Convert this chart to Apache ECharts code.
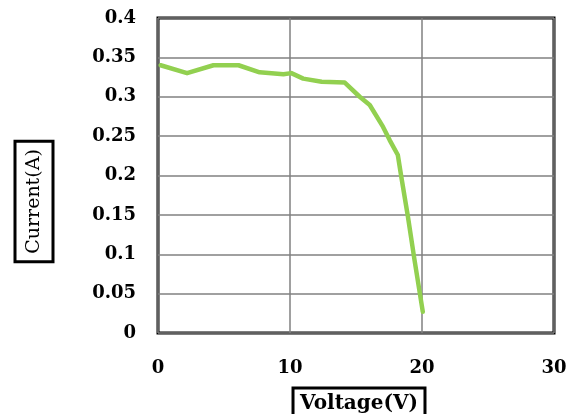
<!DOCTYPE html>
<html>
<head>
<meta charset="utf-8">
<script src="https://cdn.jsdelivr.net/npm/echarts@6/dist/echarts.min.js"></script>
<style>html,body{margin:0;padding:0;background:#fff}#c{width:574px;height:414px}</style>
</head>
<body>
<div id="c"></div>
<script>
const voltage = [0.2, 2.2, 4.2, 6.1, 7.7, 9.5, 10.1, 11.0, 12.4, 14.15, 15.28, 16.04, 17.04, 17.55, 18.17, 18.43, 18.93, 19.43, 20.06];
const current = [0.340, 0.330, 0.340, 0.340, 0.331, 0.3285, 0.330, 0.323, 0.319, 0.318, 0.300, 0.2895, 0.262, 0.245, 0.226, 0.1985, 0.148, 0.093, 0.027];
const xTitle = 'Voltage(V)';
const yTitle = 'Current(A)';

const chart = echarts.init(document.getElementById('c'), null, {renderer: 'canvas'});
const font = '"DejaVu Serif", "Liberation Serif", serif';
chart.setOption({
  animation: false,
  backgroundColor: '#fff',
  grid: {left: 158, right: 20, top: 18, bottom: 81, show: true, borderColor: '#000', borderWidth: 3, backgroundColor: 'transparent'},
  xAxis: {
    type: 'value', min: 0, max: 30, interval: 10,
    axisLine: {show: false}, axisTick: {show: false},
    splitLine: {show: true, lineStyle: {color: '#808080', width: 1.5}},
    axisLabel: {margin: 26, color: '#000', fontFamily: font, fontWeight: 'bold', fontSize: 18}
  },
  yAxis: {
    type: 'value', min: 0, max: 0.4, interval: 0.05,
    axisLine: {show: false}, axisTick: {show: false},
    splitLine: {show: true, lineStyle: {color: '#808080', width: 1.5}},
    axisLabel: {margin: 22, color: '#000', fontFamily: font, fontWeight: 'bold', fontSize: 18,
      formatter: v => String(Math.round(v * 100) / 100)}
  },
  series: [{
    type: 'line',
    data: voltage.map((v, i) => [v, current[i]]),
    showSymbol: false, symbol: 'none',
    lineStyle: {color: '#92d050', width: 4.5, cap: 'round', join: 'round'},
    z: 5
  }],
  graphic: [
    {type: 'text', x: 34, y: 201.5, rotation: Math.PI / 2,
      style: {text: yTitle, x: 0, y: 0, align: 'center', verticalAlign: 'middle',
        font: '19px ' + font, fill: '#000', borderColor: '#000', borderWidth: 3, padding: [10, 8, 9, 8]}},
    {type: 'text', x: 359, y: 404,
      style: {text: xTitle, x: 0, y: 0, align: 'center', verticalAlign: 'middle',
        font: 'bold 20px ' + font, fill: '#000', borderColor: '#000', borderWidth: 3, padding: [6, 7, 6, 7]}}
  ]
});
</script>
</body>
</html>
